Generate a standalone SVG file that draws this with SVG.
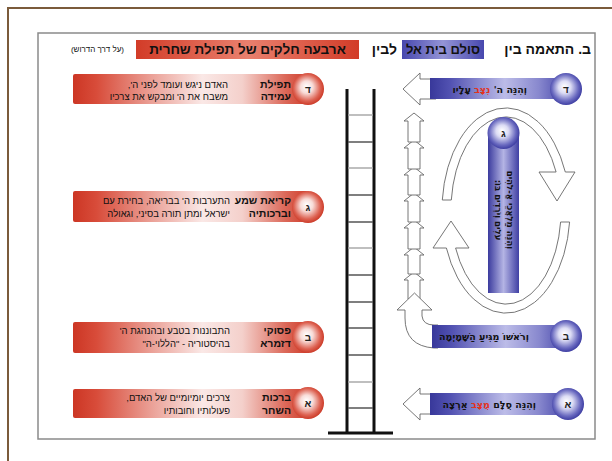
<svg xmlns="http://www.w3.org/2000/svg" width="612" height="461" viewBox="0 0 612 461">
<defs>
<style>
text{font-family:"Liberation Sans","DejaVu Sans",sans-serif;fill:#111}
.r{direction:rtl;text-anchor:start}
.m{direction:rtl;text-anchor:middle}
.b{font-weight:bold}
.desc{font-size:9.5px}
.ttl{font-size:10.5px;font-weight:bold}
.lt{font-size:10px;font-weight:bold;fill:#222}
.bt{font-family:"DejaVu Sans","Liberation Sans",sans-serif;font-size:9.5px;font-weight:bold}
.vt{font-family:"DejaVu Sans","Liberation Sans",sans-serif;font-size:8.5px;font-weight:bold}
.red{fill:#e3321c}
.rail{stroke:#111;stroke-width:3;fill:none}
.rung1{stroke:#555;stroke-width:1.5}
.rung2{stroke:#aaa;stroke-width:1.5}
.wa{fill:#fff;stroke:#666;stroke-width:0.9;stroke-linejoin:round}
</style>
<linearGradient id="redBar" x1="0" y1="0" x2="1" y2="0">
<stop offset="0" stop-color="#cc3624"/>
<stop offset="0.1" stop-color="#d84c3a"/>
<stop offset="0.35" stop-color="#eca69d"/>
<stop offset="0.55" stop-color="#fae8e6"/>
<stop offset="0.72" stop-color="#f4d0cb"/>
<stop offset="0.9" stop-color="#dc6a5b"/>
<stop offset="1" stop-color="#cf3d2b"/>
</linearGradient>
<radialGradient id="redBall" cx="0.48" cy="0.48" r="0.55" fx="0.45" fy="0.42">
<stop offset="0" stop-color="#ffffff"/>
<stop offset="0.35" stop-color="#f8dcd8"/>
<stop offset="0.75" stop-color="#dd6252"/>
<stop offset="1" stop-color="#c8321f"/>
</radialGradient>
<linearGradient id="blueBar" x1="0" y1="0" x2="1" y2="0">
<stop offset="0" stop-color="#38389a"/>
<stop offset="0.15" stop-color="#5252b2"/>
<stop offset="0.55" stop-color="#bcbce8"/>
<stop offset="0.8" stop-color="#8888ce"/>
<stop offset="1" stop-color="#4646aa"/>
</linearGradient>
<linearGradient id="bluePill" x1="0" y1="0" x2="1" y2="0">
<stop offset="0" stop-color="#3b3b9e"/>
<stop offset="0.5" stop-color="#b4b4e4"/>
<stop offset="1" stop-color="#4040a4"/>
</linearGradient>
<radialGradient id="blueBall" cx="0.48" cy="0.48" r="0.55" fx="0.45" fy="0.42">
<stop offset="0" stop-color="#ffffff"/>
<stop offset="0.35" stop-color="#dcdcf4"/>
<stop offset="0.75" stop-color="#6a6ac0"/>
<stop offset="1" stop-color="#34349c"/>
</radialGradient>
<linearGradient id="redTitle" x1="0" y1="0" x2="1" y2="0">
<stop offset="0" stop-color="#d23c28"/>
<stop offset="0.5" stop-color="#e9806e"/>
<stop offset="1" stop-color="#d23c28"/>
</linearGradient>
<linearGradient id="blueTitle" x1="0" y1="0" x2="1" y2="0">
<stop offset="0" stop-color="#4848ae"/>
<stop offset="0.5" stop-color="#9494d6"/>
<stop offset="1" stop-color="#4848ae"/>
</linearGradient>
</defs>

<g id="frame">
<path d="M8,461 L8,8 L612,8" fill="none" stroke="#7b5b3b" stroke-width="2"/>
<rect x="38" y="33" width="557" height="406" fill="#fff" stroke="#8a8a8a" stroke-width="1.5"/>
</g>

<g id="title">
<text class="r b" x="591" y="54" font-size="14">ב. התאמה בין</text>
<rect x="402" y="40" width="82" height="19" fill="url(#blueTitle)"/>
<text class="m b" x="443" y="54" font-size="13">סולם בית אל</text>
<text class="r b" x="397" y="54" font-size="14">לבין</text>
<rect x="136" y="40" width="223" height="19" fill="url(#redTitle)"/>
<text class="m b" x="247.5" y="54" font-size="13.5">ארבעה חלקים של תפילת שחרית</text>
<text class="r" x="124" y="52" font-size="8">(על דרך הדרוש)</text>
</g>

<g id="ladder">
<line class="rail" x1="347" y1="89" x2="347" y2="433"/>
<line class="rail" x1="374" y1="89" x2="374" y2="433"/>
<line class="rail" x1="328" y1="433" x2="393" y2="433"/>
<line class="rung2" x1="348" y1="115" x2="373" y2="115"/>
<line class="rung1" x1="348" y1="142" x2="373" y2="142"/>
<line class="rung2" x1="348" y1="168" x2="373" y2="168"/>
<line class="rung1" x1="348" y1="195" x2="373" y2="195"/>
<line class="rung1" x1="348" y1="222" x2="373" y2="222"/>
<line class="rung2" x1="348" y1="248" x2="373" y2="248"/>
<line class="rung1" x1="348" y1="275" x2="373" y2="275"/>
<line class="rung1" x1="348" y1="302" x2="373" y2="302"/>
<line class="rung1" x1="348" y1="328" x2="373" y2="328"/>
<line class="rung1" x1="348" y1="355" x2="373" y2="355"/>
<line class="rung2" x1="348" y1="382" x2="373" y2="382"/>
<line class="rung1" x1="348" y1="408" x2="373" y2="408"/>
</g>

<g id="connectors">
<path class="wa" d="M403,89 L420,73 L420,79 L436,79 L436,99 L420,99 L420,105 Z"/>
<path class="wa" d="M403,404 L420,388 L420,394 L436,394 L436,414 L420,414 L420,420 Z"/>
<path class="wa" d="M414,272 L424,280 L420,280 L420,299 L408,299 L408,280 L404,280 Z"/>
<path class="wa" d="M414,247 L424,255 L420,255 L420,274 L408,274 L408,255 L404,255 Z"/>
<path class="wa" d="M414,220 L424,228 L420,228 L420,249 L408,249 L408,228 L404,228 Z"/>
<path class="wa" d="M414,193 L424,201 L420,201 L420,222 L408,222 L408,201 L404,201 Z"/>
<path class="wa" d="M414,167 L424,175 L420,175 L420,195 L408,195 L408,175 L404,175 Z"/>
<path class="wa" d="M414,140 L424,148 L420,148 L420,169 L408,169 L408,148 L404,148 Z"/>
<path class="wa" d="M414,113 L424,121 L420,121 L420,142 L408,142 L408,121 L404,121 Z"/>
<path class="wa" d="M414.5,293 L432,310 L422,310 L422,316 Q423,325 434,325 L438,325 L438,348 L434,348 Q405,346 405,318 L405,310 L397,310 Z"/>
<path class="wa" d="M451.3,200 L442.3,200 A64,102.5 0 0 1 565.3,172 L575,172 L557,201 L539,172 L556.1,172 A55,93.5 0 0 0 451.3,200 Z"/>
<path class="wa" d="M560.6,222 L569.6,222 A64,102.5 0 0 1 446.4,248 L433,248 L451,221 L469,248 L455.6,248 A55,93.5 0 0 0 560.6,222 Z"/>
</g>

<g id="left-d">
<rect x="73" y="74" width="235" height="30" rx="2" fill="url(#redBar)"/>
<circle cx="308" cy="89" r="16" fill="url(#redBall)"/>
<text class="m lt" x="308" y="93">ד</text>
<text class="r ttl" x="291" y="87.5">תפילת</text>
<text class="r ttl" x="291" y="100">עמידה</text>
<text class="r desc" x="228" y="87.5">האדם ניגש ועומד לפני ה',</text>
<text class="r desc" x="228" y="99.5">משבח את ה' ומבקש את צרכיו</text>
</g>

<g id="left-g">
<rect x="73" y="191" width="235" height="31" rx="2" fill="url(#redBar)"/>
<circle cx="308" cy="207" r="16" fill="url(#redBall)"/>
<text class="m lt" x="308" y="211">ג</text>
<text class="r ttl" x="291" y="203.5">קריאת שמע</text>
<text class="r ttl" x="291" y="216.5">וברכותיה</text>
<text class="r desc" x="230" y="203.5">התערבות ה' בבריאה, בחירת עם</text>
<text class="r desc" x="230" y="216.5">ישראל ומתן תורה בסיני, וגאולה</text>
</g>

<g id="left-b">
<rect x="73" y="322" width="235" height="31" rx="2" fill="url(#redBar)"/>
<circle cx="308" cy="337" r="16" fill="url(#redBall)"/>
<text class="m lt" x="308" y="341">ב</text>
<text class="r ttl" x="291" y="334">פסוקי</text>
<text class="r ttl" x="291" y="347">דזמרא</text>
<text class="r desc" x="230" y="334">התבוננות בטבע ובהנהגת ה'</text>
<text class="r desc" x="230" y="347">בהיסטוריה - "הללוי-ה"</text>
</g>

<g id="left-a">
<rect x="73" y="389" width="235" height="29" rx="2" fill="url(#redBar)"/>
<circle cx="308" cy="403" r="16" fill="url(#redBall)"/>
<text class="m lt" x="308" y="407">א</text>
<text class="r ttl" x="291" y="401">ברכות</text>
<text class="r ttl" x="291" y="414">השחר</text>
<text class="r desc" x="230" y="401">צרכים יומיומיים של האדם,</text>
<text class="r desc" x="230" y="414">פעולותיו וחובותיו</text>
</g>

<g id="right-d">
<rect x="430" y="78" width="136" height="21" fill="url(#blueBar)"/>
<circle cx="566" cy="89" r="16" fill="url(#blueBall)"/>
<text class="m lt" x="566" y="93">ד</text>
<text class="r bt" x="527" y="93">וְהִנֵּה ה' <tspan class="red">נִצָּב</tspan> עָלָיו</text>
</g>

<g id="right-g">
<rect x="488" y="133" width="31" height="160" fill="url(#bluePill)"/>
<circle cx="503.5" cy="133" r="16" fill="url(#blueBall)"/>
<text class="m lt" x="503.5" y="137">ג</text>
<g transform="translate(503.5,210) rotate(90)">
<text class="m vt" x="0" y="-3">וְהִנֵּה מַלְאֲכֵי אֱ-לֹהִים</text>
<text class="m vt" x="0" y="9">עֹלִים וְיֹרְדִים בּוֹ:</text>
</g>
</g>

<g id="right-b">
<rect x="432" y="325" width="134" height="23" fill="url(#blueBar)"/>
<circle cx="566" cy="336" r="16" fill="url(#blueBall)"/>
<text class="m lt" x="566" y="340">ב</text>
<text class="r bt" x="529" y="340">וְרֹאשׁוֹ מַגִּיעַ הַשָּׁמָיְמָה</text>
</g>

<g id="right-a">
<rect x="430" y="393" width="136" height="22" fill="url(#blueBar)"/>
<circle cx="568" cy="404" r="16" fill="url(#blueBall)"/>
<text class="m lt" x="568" y="408">א</text>
<text class="r bt" x="536" y="408">וְהִנֵּה סֻלָּם <tspan class="red">מֻצָּב</tspan> אַרְצָה</text>
</g>
</svg>
